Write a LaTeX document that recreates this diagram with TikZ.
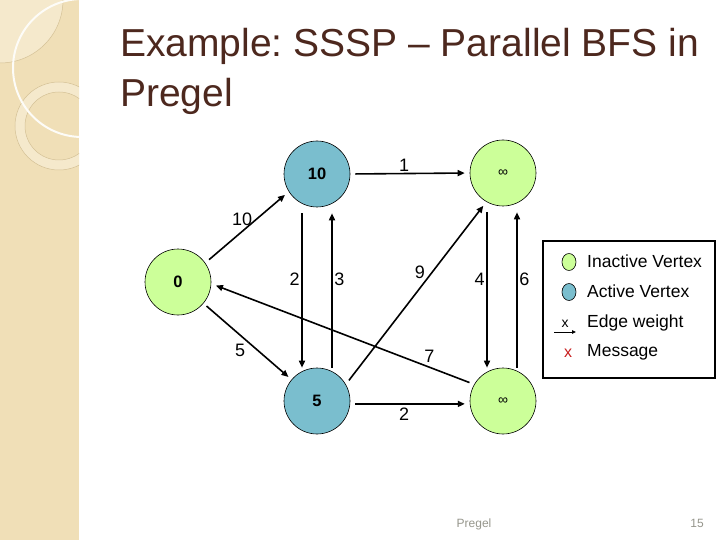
\documentclass[tikz,border=0pt]{standalone}
\usepackage{fontspec}
\setmainfont{Liberation Sans}
\usepackage{tikz}
\usetikzlibrary{shapes.geometric,arrows.meta,calc,positioning}

\definecolor{inactive}{RGB}{204,255,153}
\definecolor{active}{RGB}{122,190,206}
\definecolor{titlebrown}{RGB}{77,40,30}
\definecolor{panel}{RGB}{240,223,183}
\definecolor{panellight}{RGB}{245,233,204}
\definecolor{panelline}{RGB}{212,193,150}
\definecolor{footgray}{RGB}{150,150,140}
\definecolor{msgred}{RGB}{200,30,30}

\frenchspacing
\begin{document}
\begin{tikzpicture}[x=1pt,y=-1pt,
	vertex/.style={circle,draw=black,line width=0.6pt,minimum size=66pt,inner sep=0pt,font=\fontsize{16.5}{19}\selectfont\bfseries},
	weight/.style={font=\fontsize{18}{21}\selectfont,inner sep=1.5pt},
	wedge/.style={draw,line width=1.6pt,-{Triangle[length=7pt,width=6pt]},shorten <=5pt,shorten >=5pt},
	keytext/.style={anchor=base west,inner sep=0pt,font=\fontsize{17.5}{20}\selectfont}]
	\useasboundingbox (0,0) rectangle (720,540);
	\fill[white] (0,0) rectangle (720,540);

	% left panel
	\begin{scope}
		\clip (0,0) rectangle (79,540);
		\fill[panel] (0,0) rectangle (79,540);
		\fill[panellight] (0,0) circle (63);
		\draw[panelline,line width=0.5pt] (0,0) circle (63);
		\fill[panellight,even odd rule] (59,126) circle (44) (59,126) circle (34);
		\draw[panelline,line width=0.5pt] (59,126) circle (44) (59,126) circle (34);
		\draw[white!90!panel,line width=2pt] (82,68) circle (69);
	\end{scope}

	% title
	\node[anchor=base west,inner sep=0pt,text=titlebrown,font=\fontsize{39}{47}\selectfont] (title) at (120,57) {Example: SSSP – Parallel BFS in};
	\node[anchor=base west,inner sep=0pt,text=titlebrown,font=\fontsize{39}{47}\selectfont] (title2) at (120,107) {Pregel};

	% graph
	\node[vertex,fill=inactive] (s) at (178,282) {0};
	\node[vertex,fill=active] (t) at (317,174) {10};
	\node[vertex,fill=inactive,font=\fontsize{14}{16}\selectfont] (x) at (503,173) {∞};
	\node[vertex,fill=active] (y) at (317,401) {5};
	\node[vertex,fill=inactive,font=\fontsize{14}{16}\selectfont] (z) at (503,401) {∞};

	\path (s.35) edge[wedge] node[weight,pos=0.5,above,xshift=-5pt,yshift=-1pt] {10} (t.212);
	\path (t.east) edge[wedge] node[weight,pos=0.45,above] {1} (x.west);
	\path ([xshift=-15pt]t.south) edge[wedge,shorten <=6pt,shorten >=0pt] node[weight,pos=0.45,left] {2} ([xshift=-15pt]y.north);
	\path ([xshift=15pt]y.north) edge[wedge,shorten <=0pt,shorten >=6pt] node[weight,pos=0.55,right] {3} ([xshift=15pt]t.south);
	\path ([xshift=-16pt]x.south) edge[wedge,shorten <=6pt,shorten >=0pt] node[weight,pos=0.45,left] {4} ([xshift=-16pt]z.north);
	\path ([xshift=14pt]z.north) edge[wedge,shorten <=0pt,shorten >=6pt] node[weight,pos=0.55,right] {6} ([xshift=14pt]x.south);
	\path (y.30) edge[wedge] node[weight,pos=0.6,left,xshift=-3pt,yshift=3pt] {9} (x.240);
	\path (z.150) edge[wedge] node[weight,pos=0.17,above,yshift=2pt] {7} (s.357);
	\path (s.320) edge[wedge,shorten <=4pt,shorten >=4pt] node[weight,midway,below left] {5} (y.140);
	\path (y.-5) edge[wedge] node[weight,pos=0.45,below,yshift=-2pt] {2} (z.185);

	% legend
	\node[draw,line width=2.5pt,minimum width=172pt,minimum height=137pt,inner sep=0pt] (legend) at (629,309.5) {};
	\node[ellipse,draw,line width=0.6pt,fill=inactive,minimum width=14pt,minimum height=17pt,inner sep=0pt] (keyin) at (569,262) {};
	\node[ellipse,draw,line width=0.6pt,fill=active,minimum width=14pt,minimum height=17pt,inner sep=0pt] (keyact) at (569,292) {};
	\node[anchor=base,inner sep=0pt,font=\fontsize{14}{16}\selectfont] (keyx) at (565,327) {x};
	\coordinate (kw1) at (554,332);
	\coordinate (kw2) at (576,332);
	\draw[line width=1pt,-{Triangle[length=4pt,width=3.5pt]}] (kw1) -- (kw2);
	\node[anchor=base,inner sep=0pt,text=msgred,font=\fontsize{16}{18}\selectfont] (keymsg) at (568,357) {x};
	\node[keytext] (lin) at (587,267) {Inactive Vertex};
	\node[keytext] (lact) at (587,297) {Active Vertex};
	\node[keytext] (lw) at (587,327) {Edge weight};
	\node[keytext] (lmsg) at (587,356) {Message};

	% footer
	\node[anchor=base,inner sep=0pt,text=footgray,font=\fontsize{12}{14}\selectfont] (foot) at (474,527) {Pregel};
	\node[anchor=base,inner sep=0pt,text=footgray,font=\fontsize{12}{14}\selectfont] (page) at (697,527) {15};
\end{tikzpicture}
\end{document}
